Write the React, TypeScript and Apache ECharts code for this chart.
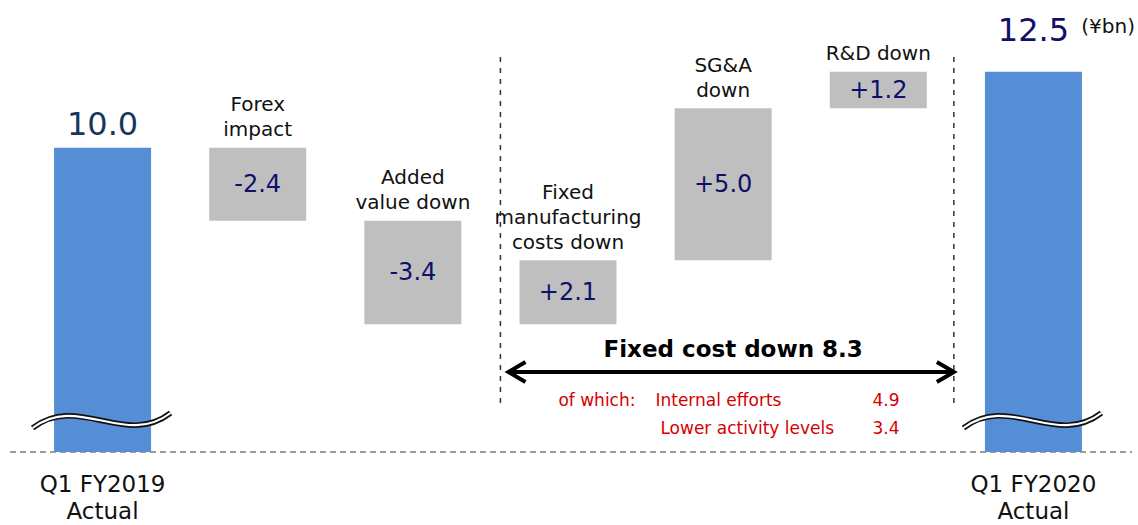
import React, { useEffect, useRef } from "react";
import * as echarts from "echarts";

const categories = [
  "Q1 FY2019\nActual",
  "Forex\nimpact",
  "Added\nvalue down",
  "Fixed\nmanufacturing\ncosts down",
  "SG&A\ndown",
  "R&D down",
  "Q1 FY2020\nActual",
];
const changes = [10.0, -2.4, -3.4, 2.1, 5.0, 1.2, 12.5];
const isTotal = [true, false, false, false, false, false, true];
const totalLabelColors = ["#17375e", "#10106b"];
const unitLabel = "(¥bn)";
const fixedCostTitle = "Fixed cost down 8.3";
const breakdownPrefix = "of which:";
const breakdownNames = ["Internal efforts", "Lower activity levels"];
const breakdownValues = [4.9, 3.4];
const yMin = 0;
const yMax = 14;

const FONT = "DejaVu Sans";

function buildWaterfall() {
  const bases: number[] = [];
  const heights: number[] = [];
  let running = 0;
  changes.forEach((v, i) => {
    if (isTotal[i]) {
      bases.push(0);
      heights.push(v);
      running = v;
    } else {
      const end = running + v;
      bases.push(Math.min(running, end));
      heights.push(Math.abs(v));
      running = end;
    }
  });
  return { bases, heights };
}

export default function App() {
  const ref = useRef<HTMLDivElement>(null);
  useEffect(() => {
    if (!ref.current) return;
    const chart = echarts.init(ref.current, null, { renderer: "svg" });
    const { bases, heights } = buildWaterfall();
    let totalIdx = 0;
    const totalGaps = [8, 26];
    const mainData = heights.map((h, i) => {
      if (isTotal[i]) {
        const k = totalIdx++;
        return {
          value: h,
          itemStyle: { color: "#558ed5" },
          label: {
            show: true,
            position: "top",
            distance: totalGaps[k % totalGaps.length],
            fontSize: 32,
            color: totalLabelColors[k % totalLabelColors.length],
            fontFamily: FONT,
            formatter: changes[i].toFixed(1),
          },
        };
      }
      const v = changes[i];
      return {
        value: h,
        itemStyle: { color: "#bfbfbf" },
        label: {
          show: true,
          position: "inside",
          fontSize: 24,
          color: "#10106b",
          fontFamily: FONT,
          formatter: (v > 0 ? "+" : "") + v.toFixed(1),
        },
      };
    });
    chart.setOption({
      animation: false,
      textStyle: { fontFamily: FONT },
      grid: { left: 25, right: 27, top: 26, bottom: 73, containLabel: false },
      xAxis: {
        type: "category",
        data: categories,
        axisLine: { show: false },
        axisTick: { show: false },
        axisLabel: {
          interval: 0,
          fontSize: 23,
          lineHeight: 27,
          color: "#111",
          margin: 18,
          fontFamily: FONT,
          formatter: (val: string, i: number) => (isTotal[i] ? val : ""),
        },
      },
      yAxis: { type: "value", min: yMin, max: yMax, show: false },
      series: [
        {
          type: "bar",
          stack: "wf",
          barWidth: 97,
          silent: true,
          itemStyle: { color: "rgba(0,0,0,0)" },
          data: bases,
        },
        {
          type: "bar",
          stack: "wf",
          barWidth: 97,
          data: mainData,
        },
        {
          type: "bar",
          stack: "wf",
          barWidth: 97,
          itemStyle: { color: "rgba(0,0,0,0)" },
          data: isTotal.map((t) => (t ? "-" : 0)),
          label: {
            show: true,
            position: "top",
            distance: 6,
            fontSize: 20,
            lineHeight: 25,
            color: "#111",
            fontFamily: FONT,
            formatter: (p: any) => categories[p.dataIndex],
          },
        },
      ],
    });

    const px = (i: number, v: number) =>
      chart.convertToPixel({ gridIndex: 0 }, [i, v]) as number[];
    const y0 = px(0, 0)[1];
    const graphics: any[] = [];
    graphics.push({
      type: "line",
      z: 1,
      shape: { x1: 10, y1: y0, x2: 1132, y2: y0 },
      style: { stroke: "#7f7f7f", lineWidth: 1.3, lineDash: [6, 4] },
    });
    isTotal.forEach((t, i) => {
      if (!t) return;
      const cx = px(i, 0)[0];
      const yb = y0 - 24;
      const yt = y0 - 39;
      const x1 = cx - 70;
      const x2 = cx + 68;
      const L = x2 - x1;
      const shape = {
        x1,
        y1: yb,
        x2,
        y2: yt,
        cpx1: x1 + L * 0.33,
        cpy1: yt - 20,
        cpx2: x1 + L * 0.67,
        cpy2: yb + 20,
      };
      graphics.push({
        type: "bezierCurve",
        z: 20,
        shape,
        style: { stroke: "#111", lineWidth: 5.5, fill: null },
      });
      graphics.push({
        type: "bezierCurve",
        z: 21,
        shape,
        style: { stroke: "#fff", lineWidth: 2.2, fill: null },
      });
    });
    const xl = (px(2, 0)[0] + px(3, 0)[0]) / 2 + 10;
    const xr = (px(5, 0)[0] + px(6, 0)[0]) / 2 - 2;
    [xl, xr].forEach((x) => {
      graphics.push({
        type: "line",
        z: 5,
        shape: { x1: x, y1: 57, x2: x, y2: y0 - 44 },
        style: { stroke: "#333", lineWidth: 1.5, lineDash: [5, 6] },
      });
    });
    const ay = y0 - 80;
    const ax1 = xl + 8;
    const ax2 = xr;
    graphics.push({
      type: "line",
      z: 6,
      shape: { x1: ax1 + 2, y1: ay, x2: ax2 - 2, y2: ay },
      style: { stroke: "#000", lineWidth: 4 },
    });
    graphics.push({
      type: "polyline",
      z: 6,
      shape: { points: [[ax1 + 17, ay - 10], [ax1, ay], [ax1 + 17, ay + 10]] },
      style: { stroke: "#000", lineWidth: 4, fill: null, lineJoin: "miter" },
    });
    graphics.push({
      type: "polyline",
      z: 6,
      shape: { points: [[ax2 - 17, ay - 10], [ax2, ay], [ax2 - 17, ay + 10]] },
      style: { stroke: "#000", lineWidth: 4, fill: null, lineJoin: "miter" },
    });
    graphics.push({
      type: "text",
      z: 6,
      x: (ax1 + ax2) / 2 + 2,
      y: ay - 23,
      style: {
        text: fixedCostTitle,
        fontSize: 23,
        fontWeight: "bold",
        fontFamily: FONT,
        fill: "#000",
        align: "center",
        verticalAlign: "middle",
      },
    });
    const red = "#d40000";
    const rowY = [y0 - 52, y0 - 24];
    graphics.push({
      type: "text",
      z: 6,
      x: xl + 58,
      y: rowY[0],
      style: { text: breakdownPrefix, fontSize: 17, fontFamily: FONT, fill: red, verticalAlign: "middle" },
    });
    const nameX = [xl + 155, xl + 160];
    breakdownNames.forEach((n, k) => {
      graphics.push({
        type: "text",
        z: 6,
        x: nameX[k],
        y: rowY[k],
        style: { text: n, fontSize: 17, fontFamily: FONT, fill: red, verticalAlign: "middle" },
      });
      graphics.push({
        type: "text",
        z: 6,
        x: xl + 372,
        y: rowY[k],
        style: {
          text: breakdownValues[k].toFixed(1),
          fontSize: 17,
          fontFamily: FONT,
          fill: red,
          verticalAlign: "middle",
        },
      });
    });
    graphics.push({
      type: "text",
      z: 6,
      x: 1135,
      y: 26,
      style: {
        text: unitLabel,
        fontSize: 20,
        fontFamily: FONT,
        fill: "#111",
        align: "right",
        verticalAlign: "middle",
      },
    });
    chart.setOption({ graphic: graphics });
    return () => chart.dispose();
  }, []);
  return (
    <div
      ref={ref}
      style={{ position: "fixed", left: 0, top: 0, width: 1138, height: 525, background: "#fff" }}
    />
  );
}
